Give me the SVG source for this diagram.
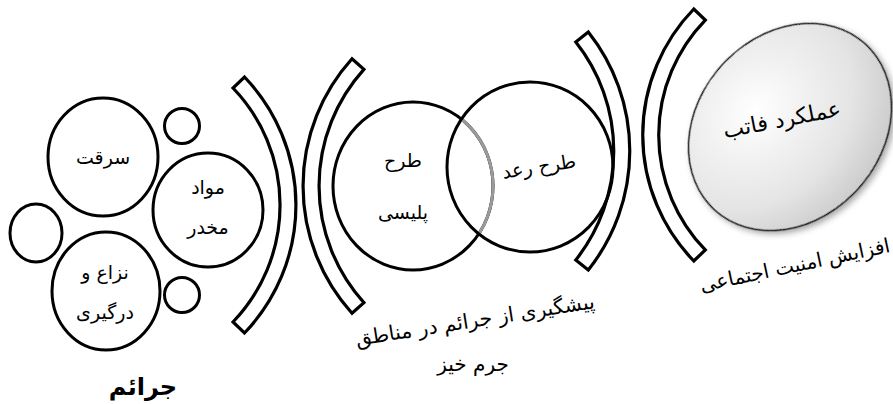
<svg xmlns="http://www.w3.org/2000/svg" width="893" height="404" viewBox="0 0 893 404">
<defs>
<style>
.c{fill:none;stroke:#000;stroke-width:3}
.band{fill:#fff;stroke:#000;stroke-width:3.2;stroke-linejoin:miter}
.t{font-family:"DejaVu Sans",sans-serif;font-size:19px;fill:#000;text-anchor:middle;direction:rtl}
.tb{font-family:"DejaVu Sans",sans-serif;font-size:24px;font-weight:bold;fill:#000;text-anchor:middle;direction:rtl}
</style>
<radialGradient id="g" cx="0.45" cy="0.3" r="0.8">
<stop offset="0" stop-color="#ffffff"/>
<stop offset="0.6" stop-color="#e4e4e4"/>
<stop offset="1" stop-color="#c2c2c2"/>
</radialGradient>
<filter id="sh" x="-20%" y="-20%" width="140%" height="150%">
<feDropShadow dx="0" dy="4" stdDeviation="3" flood-color="#000" flood-opacity="0.35"/>
</filter>
<clipPath id="clipR"><ellipse cx="530" cy="167" rx="81.5" ry="83.5"/></clipPath>
</defs>

<g id="crimes">
<g id="n-theft"><ellipse class="c" cx="103" cy="157" rx="55" ry="59"/><text class="t" x="103" y="164">سرقت</text></g>
<g id="n-drugs"><ellipse class="c" cx="208" cy="210" rx="55" ry="57"/><text class="t" x="208" y="194">مواد</text><text class="t" x="208" y="234">مخدر</text></g>
<g id="n-conflict"><ellipse class="c" cx="106" cy="291" rx="54" ry="59"/><text class="t" x="105" y="279">نزاع و</text><text class="t" x="105" y="319">درگیری</text></g>
<g id="n-small1"><circle class="c" cx="182" cy="126" r="17.5"/></g>
<g id="n-small2"><ellipse class="c" cx="36" cy="233" rx="26" ry="29"/></g>
<g id="n-small3"><circle class="c" cx="182" cy="295" r="17.5"/></g>
<text class="tb" x="143" y="395">جرائم</text>
</g>

<g id="arcs">
<path id="arc1" class="band" d="M244.5 77 A185 185 0 0 1 244.5 333 L233 322 A169 169 0 0 0 233 88 Z"/>
<path id="arc2" class="band" d="M352 58.7 A190 190 0 0 0 352 313.3 L363.9 302.6 A174 174 0 0 1 363.9 69.4 Z"/>
<path id="arc3" class="band" d="M588.3 32 A191.5 191.5 0 0 1 588.3 270 L575.8 260 A175.5 175.5 0 0 0 575.8 42 Z"/>
<path id="arc4" class="band" d="M693.8 9 A181 181 0 0 0 693.8 261 L705.3 249.9 A165 165 0 0 1 705.3 20.1 Z"/>
</g>

<g id="prevention">
<g id="n-police"><ellipse class="c" cx="413" cy="186" rx="80" ry="84"/><text class="t" x="403" y="167">طرح</text><text class="t" x="403" y="219">پلیسی</text></g>
<g id="n-raad"><ellipse class="c" cx="530" cy="167" rx="83" ry="85"/><text class="t" x="539" y="173" transform="rotate(-9 539 167)">طرح رعد</text></g>
<ellipse cx="413" cy="186" rx="80" ry="84" fill="none" stroke="#9a9a9a" stroke-width="3" clip-path="url(#clipR)"/>
<text class="t" style="font-size:20.5px" x="475" y="327" transform="rotate(-9 475 320)">پیشگیری از جرائم در مناطق</text>
<text class="t" style="font-size:20px" x="473" y="371">جرم خیز</text>
</g>

<g id="n-fatab">
<ellipse cx="790" cy="127" rx="112" ry="92" transform="rotate(-48 790 127)" fill="url(#g)" stroke="#1a1a1a" stroke-width="1.5" filter="url(#sh)"/>
<text class="t" style="font-size:22px" x="782" y="127" transform="rotate(-11 782 120)">عملکرد فاتب</text>
</g>
<text class="t" style="font-size:20px" x="795" y="272" transform="rotate(-12 795 266)">افزایش امنیت اجتماعی</text>
</svg>
